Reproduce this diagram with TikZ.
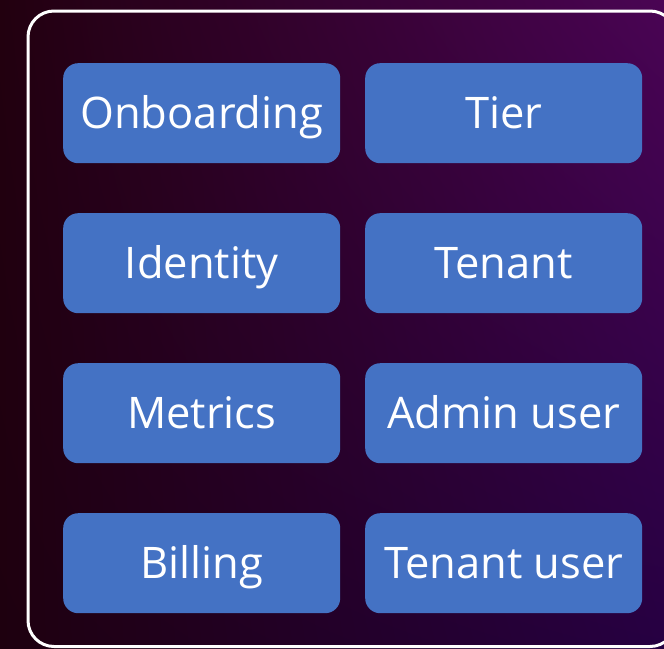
\documentclass[tikz,border=0pt]{standalone}
\usepackage{fontspec}
\setmainfont{Open Sans}
\usetikzlibrary{shadings}
\definecolor{boxblue}{HTML}{4472C4}
\definecolor{bgUL}{HTML}{22000F}
\definecolor{bgLL}{HTML}{1E000F}
\definecolor{bgUR}{HTML}{4A0454}
\definecolor{bgLR}{HTML}{260042}
\tikzset{
  tile/.style={fill=boxblue, rounded corners=15pt, minimum width=277pt,
    minimum height=100pt, text=white, font=\fontsize{43.5}{48}\selectfont,
    inner sep=0pt, text height=31pt, text depth=0pt, anchor=north west},
  frame/.style={draw=white, line width=3pt, rounded corners=26pt}
}
\begin{document}
\begin{tikzpicture}[x=1pt, y=-1pt]
  % backdrop with a four-corner gradient
  \shade[upper left=bgUL, upper right=bgUR, lower left=bgLL, lower right=bgLR]
    (0,0) rectangle (664,648);
  \useasboundingbox (0,0) rectangle (664,648);
  \begin{scope}
    \clip (0,0) rectangle (664,648);
    \draw[frame] (28,11) rectangle (676,646.5);
  \end{scope}
  % service tiles
  \node[tile] (onboarding) at (63,63)  {Onboarding};
  \node[tile] (tier)       at (365,63) {Tier};
  \node[tile] (identity)   at (63,213) {Identity};
  \node[tile] (tenant)     at (365,213) {Tenant};
  \node[tile] (metrics)    at (63,363) {Metrics};
  \node[tile] (admin)      at (365,363) {Admin user};
  \node[tile] (billing)    at (63,513) {Billing};
  \node[tile] (tuser)      at (365,513) {Tenant user};
\end{tikzpicture}
\end{document}
